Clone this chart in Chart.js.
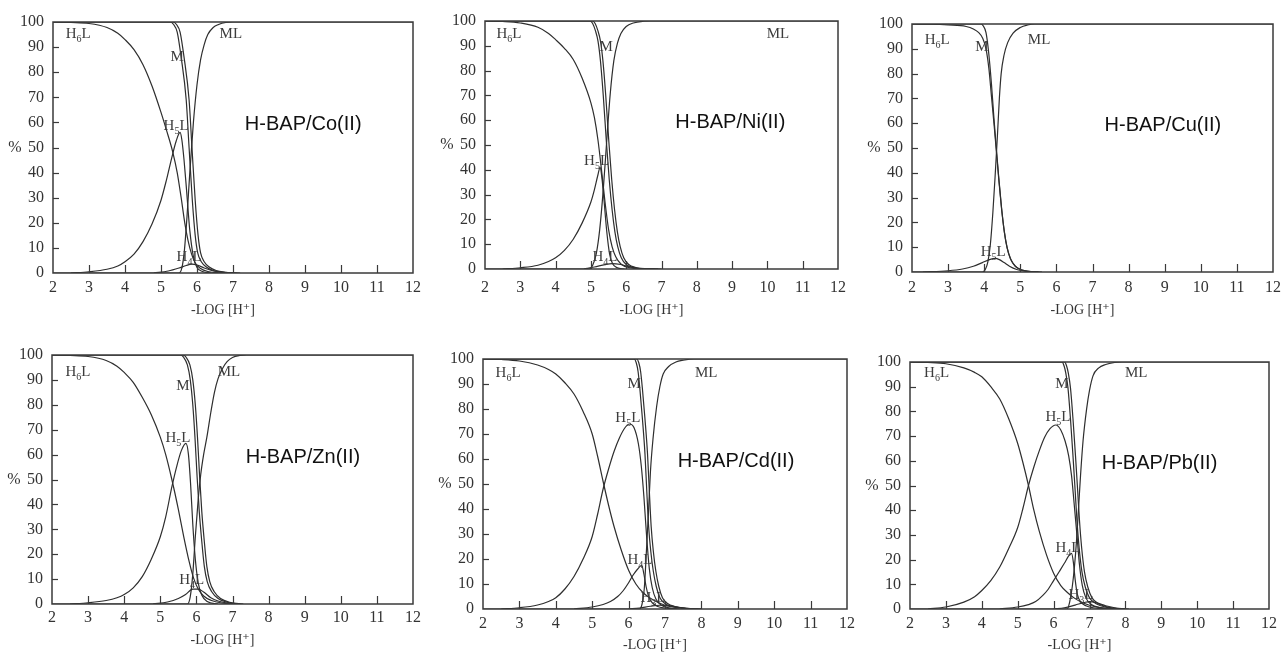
<!DOCTYPE html>
<html><head><meta charset="utf-8">
<script src="https://cdn.jsdelivr.net/npm/chart.js@4/dist/chart.umd.min.js"></script>
<style>
html,body{margin:0;padding:0;background:#fff;width:1281px;height:653px;overflow:hidden;position:relative}
canvas{position:absolute}
</style></head><body>
<script>
// ---------- data: [ -log[H+], % ] ----------
const X_TICKS = [2,3,4,5,6,7,8,9,10,11,12];
const Y_TICKS = [0,10,20,30,40,50,60,70,80,90,100];

const CO_H6L = [[2,100],[2.5,99.8],[3,99.4],[3.5,97.8],[3.8,95.5],[4,93],[4.25,89],[4.5,83],[4.75,74.5],[5,64],[5.15,57],[5.33,48],[5.45,40],[5.56,30],[5.66,20],[5.75,13],[5.85,7.5],[5.95,4],[6.1,1.8],[6.3,0.6],[6.6,0.1],[7,0]];
const CO_H5L = [[2.5,0],[3,0.5],[3.5,1.5],[3.8,2.8],[4,4.5],[4.25,7.5],[4.5,12.5],[4.75,19.5],[5,29],[5.15,37],[5.3,46],[5.42,52.5],[5.53,56],[5.58,53],[5.64,45],[5.71,33],[5.8,17],[5.9,6.5],[6.0,2.2],[6.15,0.6],[6.4,0]];
const CO_H4L = [[4.8,0],[5.2,0.8],[5.5,2],[5.7,3],[5.85,3.5],[6.0,3.2],[6.2,2],[6.5,0.7],[6.9,0.1],[7.2,0]];
const CO_M   = [[2,100],[5.25,100],[5.35,99],[5.45,96],[5.56,86],[5.7,69],[5.78,50],[5.87,29],[5.95,15],[6.02,8],[6.12,4.5],[6.26,2.4],[6.45,1],[6.7,0.3],[7,0]];
const CO_M2  = [[2,100],[5.33,100],[5.43,99],[5.53,96],[5.64,86],[5.78,69],[5.86,50],[5.95,29],[6.03,15],[6.1,8],[6.2,4.5],[6.34,2.4],[6.53,1],[6.78,0.3],[7.1,0]];
const CO_ML  = [[2,0],[5.5,0],[5.58,2],[5.65,9],[5.72,22],[5.8,40],[5.9,60],[6.0,75],[6.1,85],[6.2,91],[6.3,95],[6.45,97.8],[6.6,99],[6.8,99.8],[7,100],[12,100]];

const NI_H6L = [[2,100],[2.5,99.8],[3,99.2],[3.5,97.5],[3.8,95],[4,92.5],[4.25,89],[4.5,84.5],[4.75,77],[5,67],[5.1,61],[5.2,52],[5.3,40],[5.4,27],[5.5,16],[5.6,9],[5.7,5],[5.85,2],[6.1,0.5],[6.5,0]];
const NI_H5L = [[2.5,0],[3,0.5],[3.5,1.5],[3.8,3],[4,4.5],[4.25,7.5],[4.5,12],[4.75,18.5],[5,27],[5.1,32],[5.2,38],[5.26,41],[5.31,37],[5.37,28],[5.45,15],[5.53,6],[5.62,2],[5.75,0.5],[5.95,0]];
const NI_H4L = [[4.8,0],[5.1,0.8],[5.4,1.8],[5.6,2.2],[5.85,1.8],[6.1,0.8],[6.5,0.1],[7,0]];
const NI_M   = [[2,100],[4.97,100],[5.05,99],[5.13,96],[5.2,92],[5.27,84],[5.35,70],[5.44,51],[5.52,36],[5.6,24],[5.68,15],[5.76,9],[5.86,4.5],[6.0,1.8],[6.2,0.6],[6.5,0.1],[6.8,0]];
const NI_M2  = [[2,100],[5.04,100],[5.12,99],[5.2,96],[5.27,92],[5.34,84],[5.42,70],[5.51,51],[5.59,36],[5.67,24],[5.75,15],[5.83,9],[5.93,4.5],[6.07,1.8],[6.27,0.6],[6.57,0.1],[6.9,0]];
const NI_ML  = [[2,0],[4.95,0],[5.05,1.5],[5.15,6],[5.25,16],[5.35,32],[5.45,52],[5.55,71],[5.65,84],[5.75,91],[5.85,95],[6.0,97.8],[6.2,99.2],[6.5,99.9],[6.7,100],[12,100]];

const CU_H6L = [[2,100],[2.5,99.9],[3,99.6],[3.5,99],[3.7,98],[3.85,96.5],[3.95,94.5],[4.05,90],[4.13,82],[4.2,71],[4.27,60],[4.33,50],[4.4,38],[4.47,27],[4.55,17],[4.63,10],[4.72,5.5],[4.85,2.5],[5.0,1],[5.2,0.3],[5.5,0]];
const CU_H5L = [[2.3,0],[3,0.5],[3.4,1.2],[3.7,2.3],[3.95,3.8],[4.15,5],[4.3,5.5],[4.42,5],[4.55,3.8],[4.7,2.3],[4.9,1],[5.15,0.3],[5.5,0]];
const CU_M   = [[2,100],[3.9,100],[3.97,99.3],[4.05,96.5],[4.12,89],[4.2,76],[4.27,62],[4.34,49],[4.41,37],[4.48,26],[4.56,16],[4.64,9.5],[4.74,5],[4.87,2.2],[5.05,0.8],[5.3,0.2],[5.6,0]];
const CU_ML  = [[2,0],[3.95,0],[4.03,1],[4.1,4],[4.17,11],[4.24,24],[4.3,38],[4.37,56],[4.42,70],[4.47,80],[4.55,87.5],[4.65,92.5],[4.8,96.3],[5.0,98.6],[5.2,99.6],[5.4,100],[12,100]];

const ZN_H6L = [[2,100],[2.5,99.8],[3,99.4],[3.5,97.8],[3.8,95.5],[4,93],[4.25,89],[4.5,83],[4.75,76],[5,67],[5.15,60],[5.32,50],[5.5,38],[5.65,27],[5.8,17],[5.92,10.5],[6.05,6],[6.2,3.2],[6.4,1.5],[6.7,0.4],[7.2,0]];
const ZN_H5L = [[2.5,0],[3,0.5],[3.5,1.4],[3.8,2.5],[4,3.8],[4.25,6.5],[4.5,11],[4.75,18],[5,27],[5.15,35],[5.32,47],[5.45,55],[5.58,61.5],[5.71,64.5],[5.78,60],[5.84,48],[5.9,32],[5.97,18],[6.05,8.5],[6.15,3.5],[6.3,1],[6.6,0]];
const ZN_H4L = [[4.8,0],[5.2,0.8],[5.5,2.2],[5.7,3.8],[5.9,6],[6.05,6],[6.2,4.8],[6.4,2.5],[6.6,1.2],[6.9,0.3],[7.2,0]];
const ZN_M   = [[2,100],[5.55,100],[5.65,99],[5.75,96],[5.83,90],[5.9,80],[5.96,67],[6.02,51],[6.08,37],[6.15,25],[6.22,15],[6.3,9],[6.42,5],[6.6,2.2],[6.85,0.7],[7.2,0]];
const ZN_M2  = [[2,100],[5.62,100],[5.72,99],[5.82,96],[5.9,90],[5.97,80],[6.03,67],[6.09,51],[6.15,37],[6.22,25],[6.29,15],[6.37,9],[6.49,5],[6.67,2.2],[6.92,0.7],[7.3,0]];
const ZN_ML  = [[2,0],[5.75,0],[5.83,3],[5.9,12],[5.97,27],[6.05,42],[6.12,52],[6.2,60],[6.29,67],[6.4,77],[6.5,85],[6.6,90.5],[6.72,94.5],[6.85,97.3],[7.0,99],[7.2,99.8],[7.4,100],[12,100]];

const CD_H6L = [[2,100],[2.5,99.8],[3,99.2],[3.5,97.6],[3.8,95.8],[4,94],[4.25,90.5],[4.5,86],[4.75,79],[5,70],[5.15,61],[5.3,51],[5.45,41.5],[5.6,33],[5.8,23.5],[6.0,15.5],[6.2,10],[6.4,6.5],[6.6,4.3],[6.8,2.7],[7.0,1.5],[7.3,0.6],[7.6,0.2],[8,0]];
const CD_H5L = [[2.5,0],[3,0.5],[3.5,1.6],[3.8,3],[4,4.5],[4.25,8],[4.5,13],[4.75,20],[5,29],[5.15,38],[5.3,48],[5.45,56],[5.6,63],[5.75,68.5],[5.9,72.5],[6.02,74],[6.15,72.5],[6.27,66],[6.35,57],[6.42,45],[6.5,28],[6.57,16],[6.65,8.5],[6.75,4],[6.9,1.5],[7.1,0.5],[7.4,0]];
const CD_H4L = [[4.5,0],[5,0.8],[5.3,1.8],[5.5,3],[5.7,5],[5.85,7.3],[6.0,10.5],[6.12,13.5],[6.25,16],[6.36,17.5],[6.42,14],[6.48,9],[6.55,5],[6.65,2.5],[6.8,1],[7.0,0.4],[7.3,0]];
const CD_H3L = [[6.0,0],[6.3,0.4],[6.6,1.1],[6.85,1.5],[7.1,1.3],[7.4,0.6],[7.7,0.2],[8,0]];
const CD_M   = [[2,100],[6.15,100],[6.21,98.5],[6.26,95],[6.31,88],[6.38,76],[6.45,62],[6.5,47],[6.55,33],[6.61,23],[6.68,15],[6.76,9],[6.86,4.5],[7.0,2.2],[7.2,1],[7.5,0.3],[7.8,0]];
const CD_M2  = [[2,100],[6.22,100],[6.28,98.5],[6.33,95],[6.38,88],[6.45,76],[6.52,62],[6.57,47],[6.62,33],[6.68,23],[6.75,15],[6.83,9],[6.93,4.5],[7.07,2.2],[7.27,1],[7.57,0.3],[7.9,0]];
const CD_ML  = [[2,0],[6.3,0],[6.37,2],[6.43,8],[6.5,26],[6.55,40],[6.6,55],[6.67,68],[6.77,81],[6.86,89],[6.95,94],[7.1,97],[7.3,98.8],[7.5,99.5],[7.8,100],[12,100]];

const PB_H6L = [[2,100],[2.5,99.8],[3,99.3],[3.5,97.6],[3.8,95.8],[4,94],[4.25,90],[4.5,85],[4.75,77],[5,67],[5.15,59],[5.3,50],[5.45,40],[5.6,31.5],[5.8,22],[6.0,14.5],[6.2,9.5],[6.4,6.5],[6.6,4.2],[6.8,2.6],[7.0,1.5],[7.3,0.6],[7.6,0.2],[8,0]];
const PB_H5L = [[2.5,0],[3,0.8],[3.5,2.8],[3.8,5],[4,7.5],[4.25,11.5],[4.5,17],[4.75,24.5],[5,33],[5.15,41],[5.3,50],[5.45,57.5],[5.6,64],[5.75,69.5],[5.9,73],[6.06,74.5],[6.2,72.5],[6.32,68],[6.42,62],[6.5,54],[6.57,43],[6.65,30],[6.72,18],[6.8,9.5],[6.9,4.5],[7.05,1.8],[7.3,0.5],[7.7,0]];
const PB_H4L = [[4.5,0],[5,0.8],[5.3,1.8],[5.5,3],[5.7,5.5],[5.85,8],[6.0,11.5],[6.15,15],[6.3,18.5],[6.42,21.5],[6.5,22.5],[6.55,19],[6.6,12],[6.66,6],[6.75,3],[6.9,1.3],[7.1,0.5],[7.5,0]];
const PB_H3L = [[6.0,0],[6.3,0.5],[6.6,1.6],[6.85,2.6],[7.0,3],[7.2,2.5],[7.45,1.3],[7.7,0.5],[8,0]];
const PB_M   = [[2,100],[6.23,100],[6.29,98.5],[6.34,95.5],[6.4,89.5],[6.47,77],[6.54,62],[6.6,48],[6.65,36],[6.71,25],[6.79,15],[6.88,9],[7.0,4.5],[7.2,2],[7.5,0.6],[7.8,0.1],[8,0]];
const PB_M2  = [[2,100],[6.3,100],[6.36,98.5],[6.41,95.5],[6.47,89.5],[6.54,77],[6.61,62],[6.67,48],[6.72,36],[6.78,25],[6.86,15],[6.95,9],[7.07,4.5],[7.27,2],[7.57,0.6],[7.87,0.1],[8.1,0]];
const PB_ML  = [[2,0],[6.38,0],[6.45,3],[6.52,9],[6.58,17],[6.64,28],[6.7,42],[6.75,54],[6.82,68],[6.92,81],[7.0,88.5],[7.1,94.5],[7.25,97.5],[7.45,99],[7.7,99.8],[7.9,100],[12,100]];

// species labels: [text, x, %]  ("_" marks the subscript digit)
const CO_LABELS = [["H_6L",2.7,95.5],["M",5.45,86.5],["ML",6.94,95.5],["H_5L",5.42,59],["H_4L",5.78,6.6]];
const NI_LABELS = [["H_6L",2.68,95],["M",5.43,90],["ML",10.3,95],["H_5L",5.16,44],["H_4L",5.4,5.4]];
const CU_LABELS = [["H_6L",2.7,94],["M",3.94,91],["ML",5.52,94],["H_5L",4.25,8.5]];
const ZN_LABELS = [["H_6L",2.72,93.6],["M",5.63,88],["ML",6.9,93.6],["H_5L",5.49,67],["H_4L",5.87,10]];
const CD_LABELS = [["H_6L",2.69,95],["M",6.15,90.4],["ML",8.13,95],["H_5L",5.98,77],["H_4L",6.31,20],["H_3L",6.67,5]];
const PB_LABELS = [["H_6L",2.74,96],["M",6.23,91.5],["ML",8.3,96],["H_5L",6.12,78],["H_4L",6.4,25],["H_3L",6.76,6]];

const TITLES = ["H-BAP/Co(II)","H-BAP/Ni(II)","H-BAP/Cu(II)","H-BAP/Zn(II)","H-BAP/Cd(II)","H-BAP/Pb(II)"];

// ---------- layout (plot-area pixel boxes, tick-label gap, axis-title gap) ----------
const PANELS = [
  {title:TITLES[0], series:[CO_H6L,CO_H5L,CO_H4L,CO_M,CO_M2,CO_ML], labels:CO_LABELS, box:[53,22,413,273], tp:5, ag:37},
  {title:TITLES[1], series:[NI_H6L,NI_H5L,NI_H4L,NI_M,NI_M2,NI_ML], labels:NI_LABELS, box:[485,21,838,269], tp:9, ag:41},
  {title:TITLES[2], series:[CU_H6L,CU_H5L,CU_M,CU_ML], labels:CU_LABELS, box:[912,24,1273,272], tp:6, ag:38},
  {title:TITLES[3], series:[ZN_H6L,ZN_H5L,ZN_H4L,ZN_M,ZN_M2,ZN_ML], labels:ZN_LABELS, box:[52,355,413,604], tp:4, ag:36},
  {title:TITLES[4], series:[CD_H6L,CD_H5L,CD_H4L,CD_H3L,CD_M,CD_M2,CD_ML], labels:CD_LABELS, box:[483,359,847,609], tp:5, ag:36},
  {title:TITLES[5], series:[PB_H6L,PB_H5L,PB_H4L,PB_H3L,PB_M,PB_M2,PB_ML], labels:PB_LABELS, box:[910,362,1269,609], tp:5, ag:36},
];

const SERIF = '"Liberation Serif","DejaVu Serif",serif';
const INK = '#333';

const decorPlugin = {
  id: 'decor',
  afterDraw(chart, args, opts) {
    const {ctx, chartArea: a, scales: {x, y}} = chart;
    ctx.save();
    // frame
    ctx.strokeStyle = '#3a3a3a'; ctx.lineWidth = 1.5;
    ctx.strokeRect(a.left, a.top, a.right - a.left, a.bottom - a.top);
    // inward tick marks
    ctx.lineWidth = 1.2;
    x.ticks.forEach(t => {
      if (t.value > x.min && t.value < x.max) {
        const px = Math.round(x.getPixelForValue(t.value)) + 0.5;
        ctx.beginPath(); ctx.moveTo(px, a.bottom); ctx.lineTo(px, a.bottom - 8); ctx.stroke();
      }
    });
    y.ticks.forEach(t => {
      if (t.value > y.min && t.value < y.max) {
        const py = Math.round(y.getPixelForValue(t.value)) + 0.5;
        ctx.beginPath(); ctx.moveTo(a.left, py); ctx.lineTo(a.left + 6, py); ctx.stroke();
      }
    });
    // species labels
    ctx.fillStyle = '#3c3c3c';
    ctx.textBaseline = 'alphabetic';
    opts.labels.forEach(([txt, vx, vy]) => {
      const parts = txt.split('_');
      const big = '15px ' + SERIF, small = '10px ' + SERIF;
      let pieces = [];
      if (parts.length === 1) pieces.push([parts[0], big, 0]);
      else { pieces.push([parts[0], big, 0]); pieces.push([parts[1][0], small, 4]); pieces.push([parts[1].slice(1), big, 0]); }
      let w = 0;
      pieces.forEach(p => { ctx.font = p[1]; w += ctx.measureText(p[0]).width; });
      let cx = x.getPixelForValue(vx) - w / 2;
      const cy = y.getPixelForValue(vy) + 5;
      ctx.textAlign = 'left';
      pieces.forEach(p => { ctx.font = p[1]; ctx.fillText(p[0], cx, cy + p[2]); cx += ctx.measureText(p[0]).width; });
    });
    // panel title
    ctx.fillStyle = '#111';
    ctx.font = '20px "Liberation Sans", Arial, sans-serif';
    ctx.textAlign = 'center'; ctx.textBaseline = 'middle';
    ctx.fillText(opts.title, x.getPixelForValue(8.95), y.getPixelForValue(59));
    // axis texts
    ctx.fillStyle = INK;
    ctx.font = '16px ' + SERIF;
    ctx.fillText('%', a.left - 38, y.getPixelForValue(50));
    ctx.font = '14px ' + SERIF;
    ctx.fillText('-LOG [H\u207A]', (a.left + a.right) / 2 - 10, a.bottom + opts.gap);
    ctx.restore();
  }
};

PANELS.forEach((p, i) => {
  const [L, T, R, B] = p.box;
  const padL = 53, padT = 15, padR = Math.min(12, 1281 - R), padB = 48;
  const W = (R - L) + padL + padR, H = (B - T) + padT + padB;
  const cv = document.createElement('canvas');
  cv.width = W; cv.height = H;
  cv.style.left = (L - padL) + 'px'; cv.style.top = (T - padT) + 'px';
  cv.style.width = W + 'px'; cv.style.height = H + 'px';
  document.body.appendChild(cv);
  new Chart(cv, {
    type: 'line',
    data: {
      datasets: p.series.map(s => ({
        data: s.map(([vx, vy]) => ({x: vx, y: vy})),
        borderColor: '#2e2e2e', borderWidth: 1.2, pointRadius: 0,
        fill: false, cubicInterpolationMode: 'monotone'
      }))
    },
    options: {
      responsive: false, animation: false, devicePixelRatio: 1,
      layout: {padding: {left: 0, top: padT, right: padR, bottom: 0}},
      plugins: {legend: {display: false}, tooltip: {enabled: false},
                decor: {labels: p.labels, title: p.title, gap: p.ag}},
      scales: {
        x: {type: 'linear', min: 2, max: 12,
            afterBuildTicks: sc => { sc.ticks = X_TICKS.map(v => ({value: v})); },
            ticks: {autoSkip: false, maxRotation: 0, padding: p.tp, color: INK, font: {family: SERIF, size: 16}},
            grid: {display: false, drawTicks: false}, border: {display: false},
            afterFit: sc => { sc.height = padB; sc.paddingLeft = 0; sc.paddingRight = 0; }},
        y: {type: 'linear', min: 0, max: 100,
            afterBuildTicks: sc => { sc.ticks = Y_TICKS.map(v => ({value: v})); },
            ticks: {autoSkip: false, padding: 9, color: INK, font: {family: SERIF, size: 16}},
            grid: {display: false, drawTicks: false}, border: {display: false},
            afterFit: sc => { sc.width = padL; sc.paddingTop = 0; sc.paddingBottom = 0; }}
      }
    },
    plugins: [decorPlugin]
  });
});
</script>
</body></html>
